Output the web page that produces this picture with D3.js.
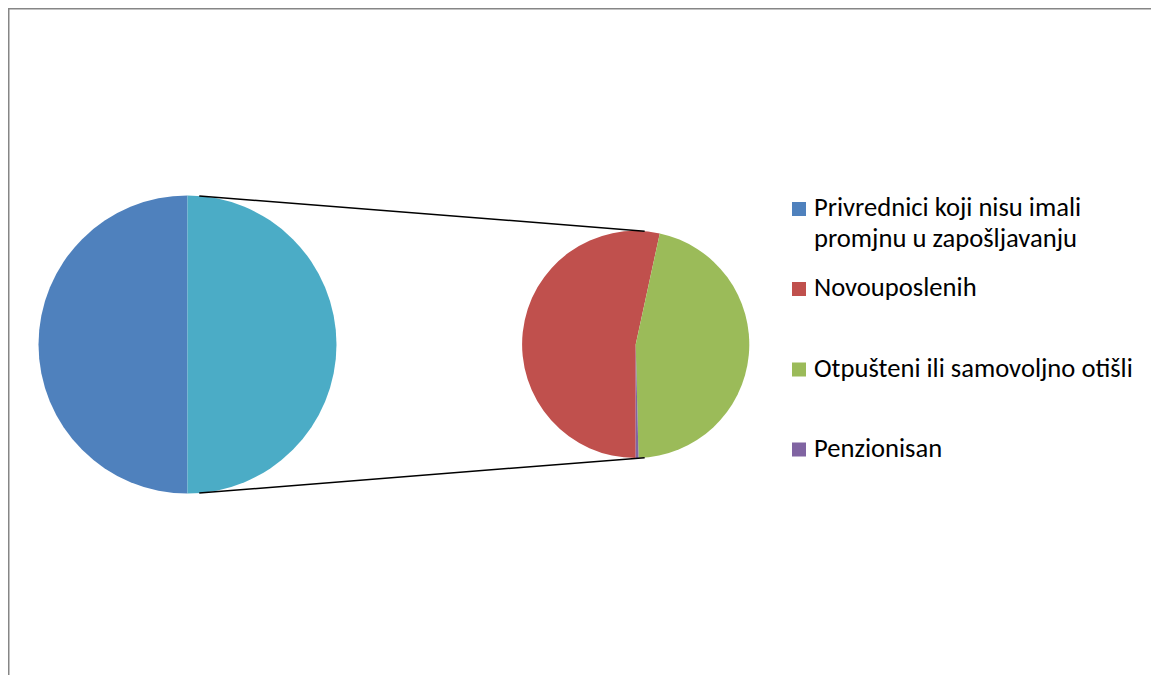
<!DOCTYPE html>
<html>
<head>
<meta charset="utf-8">
<script src="https://cdn.jsdelivr.net/npm/d3@7"></script>
<style>
  html, body { margin: 0; padding: 0; background: #fff; }
  svg { display: block; }
</style>
</head>
<body>
<svg id="chart" width="1151" height="675"></svg>
<script>
// ---- data ----
const categories = ["Privrednici koji nisu imali promjnu u zapošljavanju", "Novouposlenih", "Otpušteni ili samovoljno otišli", "Penzionisan"];
const legendLines = [["Privrednici koji nisu imali", "promjnu u zapošljavanju"], ["Novouposlenih"], ["Otpušteni ili samovoljno otišli"], ["Penzionisan"]];
const values = [50, 26.7, 23.1, 0.2];
const colors = ["#4F81BD", "#C0504D", "#9BBB59", "#8064A2"];
const otherColor = "#4BACC6";

const svg = d3.select("#chart");
const W = 1151, H = 675;

// chart border (extends past right/bottom edge)
svg.append("rect")
  .attr("x", 8.75).attr("y", 8.75)
  .attr("width", W + 20).attr("height", H + 20)
  .attr("fill", "#fff")
  .attr("stroke", "#868686").attr("stroke-width", 1.5);

// primary and secondary pie data
const mainValue = values[0];
const secondaryValues = values.slice(1);
const otherValue = d3.sum(secondaryValues);
const primaryData = [
  { value: mainValue, color: colors[0] },
  { value: otherValue, color: otherColor }
];
const secondaryData = secondaryValues.map((v, i) => ({ value: v, color: colors[i + 1] }));

const c1 = { x: 187.5, y: 344.5, r: 149 };
const c2 = { x: 635.7, y: 344.4, r: 113.6 };

const pie = d3.pie().sort(null).value(d => d.value).startAngle(Math.PI).endAngle(3 * Math.PI);

const arc1 = d3.arc().innerRadius(0).outerRadius(c1.r);
const arc2 = d3.arc().innerRadius(0).outerRadius(c2.r);

svg.append("g").attr("transform", `translate(${c1.x},${c1.y})`)
  .selectAll("path").data(pie(primaryData)).join("path")
  .attr("d", arc1).attr("fill", d => d.data.color);

svg.append("g").attr("transform", `translate(${c2.x},${c2.y})`)
  .selectAll("path").data(pie(secondaryData)).join("path")
  .attr("d", arc2).attr("fill", d => d.data.color);

// connector lines: external tangents of the two circles
const dx = c2.x - c1.x, dy = c2.y - c1.y;
const d = Math.hypot(dx, dy);
const s = (c1.r - c2.r) / d;
const th = Math.asin(s);
[-1, 1].forEach(sign => {
  const ang = sign === -1 ? th : Math.PI - th;
  const nx = Math.sin(ang), ny = -Math.cos(ang);
  svg.append("line")
    .attr("x1", c1.x + c1.r * nx).attr("y1", c1.y + c1.r * ny)
    .attr("x2", c2.x + c2.r * nx).attr("y2", c2.y + c2.r * ny)
    .attr("stroke", "#000").attr("stroke-width", 1.5);
});

// legend
const baselines = [216, 296, 376.5, 456.5];
const lineH = 30.7;
const lg = svg.append("g");
legendLines.forEach((lines, i) => {
  lg.append("rect")
    .attr("x", 792).attr("y", baselines[i] - 14)
    .attr("width", 14).attr("height", 14)
    .attr("fill", colors[i]);
  const t = lg.append("text")
    .attr("x", 814).attr("y", baselines[i])
    .attr("font-family", "Carlito, 'Liberation Sans', Arial, sans-serif")
    .attr("font-size", 26.6)
    .attr("fill", "#000");
  lines.forEach((ln, j) => {
    t.append("tspan").attr("x", 814).attr("y", baselines[i] + j * lineH).text(ln);
  });
});
</script>
</body>
</html>
